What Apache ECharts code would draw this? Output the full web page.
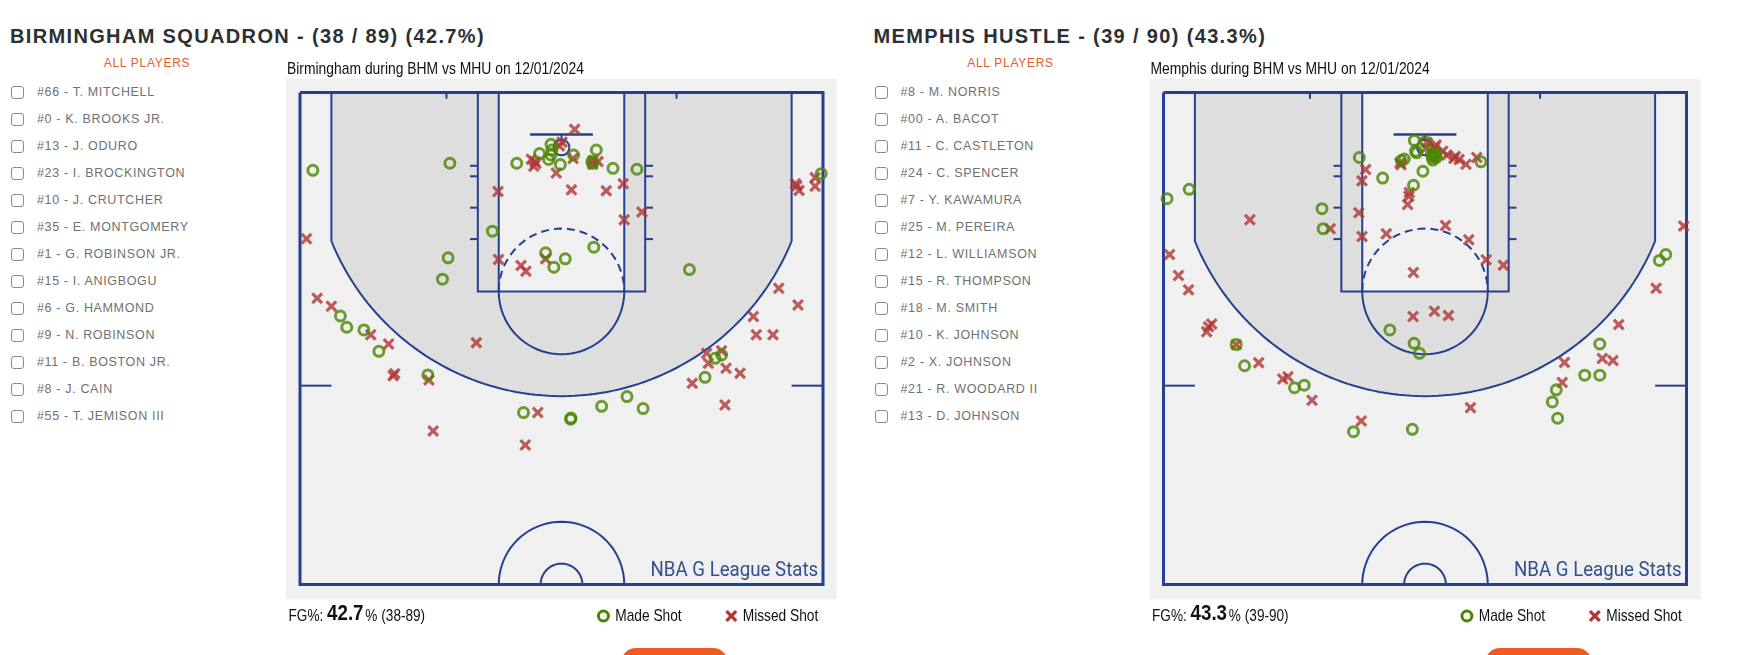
<!DOCTYPE html>
<html><head><meta charset="utf-8">
<script src="https://cdn.jsdelivr.net/npm/echarts@6/dist/echarts.min.js"></script>
<style>
html,body{margin:0;padding:0;background:#fff;width:1761px;height:655px;overflow:hidden;font-family:"Liberation Sans",Arial,sans-serif;}
.hdr{position:absolute;top:25.8px;font-weight:bold;font-size:20px;line-height:20px;letter-spacing:1.35px;color:#2b3035;white-space:nowrap;}
.all{position:absolute;top:56.5px;font-size:12px;line-height:12px;letter-spacing:0.7px;color:#e0612b;white-space:nowrap;transform:translateX(-50%);}
.row{position:absolute;height:14px;white-space:nowrap;}
.cb{position:absolute;left:0;top:1px;width:11px;height:11px;border:1.5px solid #8a8a8a;border-radius:3px;}
.nm{position:absolute;left:26px;top:0;font-size:12.5px;line-height:14px;letter-spacing:0.65px;color:#707070;}
.btn{position:absolute;top:648px;width:107px;height:30px;border-radius:15px;background:#f05a1e;}
#chart{position:absolute;left:0;top:0;width:1761px;height:655px;}
</style></head>
<body>
<div id="page"></div>
<div id="chart"></div>
<script>
// ---------------- DATA ----------------
const bhmTitle = "BIRMINGHAM SQUADRON - (38 / 89) (42.7%)";
const mhuTitle = "MEMPHIS HUSTLE - (39 / 90) (43.3%)";
const bhmSubtitle = "Birmingham during BHM vs MHU on 12/01/2024";
const mhuSubtitle = "Memphis during BHM vs MHU on 12/01/2024";
const bhmFG = ["42.7", "(38-89)"];
const mhuFG = ["43.3", "(39-90)"];
const bhmPlayers = ["#66 - T. MITCHELL","#0 - K. BROOKS JR.","#13 - J. ODURO","#23 - I. BROCKINGTON","#10 - J. CRUTCHER","#35 - E. MONTGOMERY","#1 - G. ROBINSON JR.","#15 - I. ANIGBOGU","#6 - G. HAMMOND","#9 - N. ROBINSON","#11 - B. BOSTON JR.","#8 - J. CAIN","#55 - T. JEMISON III"];
const mhuPlayers = ["#8 - M. NORRIS","#00 - A. BACOT","#11 - C. CASTLETON","#24 - C. SPENCER","#7 - Y. KAWAMURA","#25 - M. PEREIRA","#12 - L. WILLIAMSON","#15 - R. THOMPSON","#18 - M. SMITH","#10 - K. JOHNSON","#2 - X. JOHNSON","#21 - R. WOODARD II","#13 - D. JOHNSON"];
const legendNames = ["Made Shot", "Missed Shot"];

// shot locations in feet: [x from basket centre, distance from baseline]
const bhmMade = [[-23.77,7.43],[-10.67,6.76],[-4.28,6.76],[-2.1,5.83],[-1.0,4.95],[-0.91,5.49],[-1.0,5.97],[-1.23,6.4],[-0.11,6.88],[1.16,5.97],
[3.33,5.49],[2.9,6.6],[2.98,6.78],[4.92,7.24],[7.21,7.33],[-6.6,13.24],[-10.84,15.79],[-11.38,17.83],[-1.52,15.31],[-0.73,16.68],
[0.36,15.89],[3.09,14.77],[12.23,16.91],[-21.14,21.34],[-20.53,22.42],[-18.89,22.68],[-17.46,24.72],[-12.78,26.97],[13.72,27.2],[14.68,25.39],
[15.31,25.07],[24.83,7.75],[-3.63,30.57],[0.87,31.21],[0.9,31.1],[3.84,29.97],[6.26,29.04],[7.8,30.19]];
const bhmMissed = [[1.26,3.52],[0.05,4.76],[-2.88,6.38],[-2.44,6.79],[-2.65,7.05],[-0.5,7.68],[1.11,6.3],[3.02,6.5],[3.5,6.6],[-6.07,9.45],
[0.95,9.3],[4.28,9.38],[5.9,8.72],[5.99,12.15],[7.69,11.42],[-24.38,13.97],[-6.02,15.95],[-3.87,16.52],[-3.4,17.07],[-1.52,15.89],
[-23.36,19.65],[-22.0,20.41],[-18.24,23.13],[-16.53,24.02],[-15.95,26.85],[-16.1,27.05],[-12.68,27.45],[-8.14,23.89],[22.37,8.71],[22.71,9.35],
[24.25,8.13],[24.25,8.96],[20.77,18.69],[22.61,20.29],[18.34,21.4],[18.62,23.13],[20.22,23.13],[13.88,24.9],[14.04,25.87],[15.3,24.66],
[15.73,26.34],[17.07,26.82],[12.5,27.78],[15.63,29.85],[-12.27,32.33],[-3.46,33.67],[-2.27,30.57],[2.99,6.86],[-2.55,6.6],[-0.2,5.1],
[22.5,8.9]];
const mhuMade = [[-1.02,4.58],[0.02,4.7],[-0.8,5.76],[0.8,5.98],[0.95,6.1],[0.6,5.85],[1.0,5.8],[-1.98,6.35],[-2.26,6.5],[5.35,6.62],
[-6.28,6.21],[-4.05,8.17],[-0.2,7.52],[-1.1,8.86],[-9.85,11.1],[-9.74,13.01],[-24.66,10.14],[-22.54,9.25],[-18.05,24.08],[-17.25,26.1],
[-12.48,28.2],[-11.55,27.95],[-6.84,32.39],[-1.21,32.17],[-3.36,22.68],[-1.04,23.96],[-0.53,24.91],[23.02,15.47],[22.41,16.04],[16.71,24.02],
[15.27,27.0],[16.71,27.0],[12.55,28.4],[12.17,29.55],[12.68,31.11],[0.75,6.45],[0.7,6.2],[1.1,6.2],[-0.9,5.6]];
const mhuMissed = [[0.18,4.77],[1.07,5.02],[-2.39,6.72],[2.1,5.98],[2.76,6.3],[3.26,6.4],[3.92,6.85],[4.95,6.2],[-5.67,7.35],[-6.03,8.44],
[-1.5,9.55],[-1.66,10.69],[-6.33,11.48],[-6.02,13.75],[-3.7,13.49],[1.96,12.7],[4.18,14.07],[5.85,15.98],[7.49,16.49],[-1.11,17.19],
[-9.06,13.01],[-16.74,12.15],[-24.42,15.47],[-23.57,17.48],[-22.61,18.85],[-20.7,22.37],[-20.39,22.11],[-20.87,22.85],[-18.05,24.08],[-15.9,25.8],
[-13.6,27.36],[-13.1,27.14],[-10.8,29.4],[-1.14,21.4],[0.9,20.89],[2.24,21.31],[-6.09,31.37],[4.35,30.1],[24.73,12.76],[22.1,18.69],
[18.52,22.17],[16.95,25.4],[17.97,25.6],[13.33,25.78],[13.12,27.7],[0.94,5.26],[2.9,6.1],[1.7,5.6],[-1.55,9.9],[-2.3,6.9],
[0.1,5.3]];

// ---------------- STYLE ----------------
const GREEN = '#4a8600', RED = '#b03434', LINE = '#24418f', BG = '#f0f0f0', PAINT = '#dedede', WM = '#34508c';
const DX = 863.5;
const XPATH = 'path://M19,0L50,31L81,0L100,19L69,50L100,81L81,100L50,69L19,100L0,81L31,50L0,19Z';
const XPOLY = [[19,0],[50,31],[81,0],[100,19],[69,50],[100,81],[81,100],[50,69],[19,100],[0,81],[31,50],[0,19]];
const MADE_SIZE = 10, MADE_W = 3, MISS_SIZE = 12;

// ---------------- HTML side ----------------
const page = document.getElementById('page');
function add(html){ page.insertAdjacentHTML('beforeend', html); }
function side(dx, title, players){
  add(`<div class="hdr" style="left:${10+dx}px">${title}</div>`);
  add(`<div class="all" style="left:${147+dx}px">ALL PLAYERS</div>`);
  players.forEach((p,i)=>{
    const y = 92.1 + 26.95*i;
    add(`<div class="row" style="left:${11+dx}px;top:${(y-7).toFixed(1)}px"><div class="cb"></div><div class="nm">${p}</div></div>`);
  });
  add(`<div class="btn" style="left:${621+dx}px"></div>`);
}
side(0, bhmTitle, bhmPlayers);
side(DX, mhuTitle, mhuPlayers);

// ---------------- ECharts ----------------
const mctx = document.createElement('canvas').getContext('2d');
function measure(text, font){ mctx.font = font; return mctx.measureText(text).width; }
const NARROW = '"Liberation Sans Narrow","Liberation Sans",Arial,sans-serif';
const fSub = '17px ' + NARROW, fReg = '16px ' + NARROW, fBold = 'bold 22px ' + NARROW, fLeg = '17px ' + NARROW;
const fWM = '21px Roboto, "Noto Sans", sans-serif';
const sSub = 297 / measure(bhmSubtitle, fSub);
const sReg = (34.7 + 11.4 + 44.6) / (measure('FG%:', fReg) + measure('%', fReg) + measure(bhmFG[1], fReg));
const sBold = 36.4 / measure(bhmFG[0], fBold);
const sLeg = (66.8 + 75.3) / (measure(legendNames[0], fLeg) + measure(legendNames[1], fLeg));
const sWM = 167.7 / measure('NBA G League Stats', fWM);

function txt(text, font, size, x, baseline, scale, color, mid){
  return {type:'text', x:x, y: baseline - (mid||0.3465)*size, scaleX: scale, silent:true, z:10,
    style:{text:text, font:font, fill:color, align:'left', verticalAlign:'middle'}};
}
function panelGraphics(dx, sub, fg){
  const g = [];
  g.push(txt(sub, fSub, 17, 287 + dx, 75, sSub, '#111'));
  g.push(txt('FG%:', fReg, 16, 288.5 + dx, 622, sReg, '#111'));
  g.push(txt(fg[0], fBold, 22, 327.1 + dx, 622, sBold, '#111'));
  g.push(txt('%', fReg, 16, 365.3 + dx, 622, sReg, '#111'));
  g.push(txt(fg[1], fReg, 16, 381.3 + dx, 622, sReg, '#111'));
  g.push({type:'circle', silent:true, z:10, shape:{cx:603.4+dx, cy:616, r:MADE_SIZE/2}, style:{fill:'none', stroke:GREEN, lineWidth:MADE_W}});
  g.push(txt(legendNames[0], fLeg, 17, 615.2 + dx, 622, sLeg, '#111'));
  const xs = MISS_SIZE, x0 = 731.3 + dx - xs/2, y0 = 616 - xs/2;
  g.push({type:'polygon', silent:true, z:10, shape:{points: XPOLY.map(p => [x0 + p[0]*xs/100, y0 + p[1]*xs/100])}, style:{fill:RED}});
  g.push(txt(legendNames[1], fLeg, 17, 742.7 + dx, 622, sLeg, '#111'));
  g.push(txt('NBA G League Stats', fWM, 21, 650.5 + dx, 578.3, sWM, WM, 0.342));
  return g;
}

function courtItem(params, api){
  const c = (x,y) => api.coord([x,y]);
  const arc = (cx,cy,r,a0,a1,n) => { const o=[]; for(let i=0;i<=n;i++){ const a=a0+(a1-a0)*i/n; o.push(c(cx+r*Math.cos(a), cy+r*Math.sin(a))); } return o; };
  const ln = (pts,w,dash) => { const st={stroke:LINE, lineWidth:w||2, fill:null}; if(dash) st.lineDash=dash; return {type:'polyline', shape:{points:pts}, style:st}; };
  const p0 = c(-26.34,-1.29), p1 = c(26.34,48.4);
  const cy3 = 5.25 + Math.sqrt(23.75*23.75 - 22*22);
  const a0 = Math.atan2(cy3-5.25, -22), a1 = Math.atan2(cy3-5.25, 22);
  const three = [c(-22,0), c(-22,cy3)].concat(arc(0,5.25,23.75,a0,a1,90)).concat([c(22,cy3), c(22,0)]);
  const l0 = c(-6,0), l1 = c(6,19);
  const ch = [
    {type:'rect', shape:{x:p0[0], y:p0[1], width:p1[0]-p0[0], height:p1[1]-p0[1]}, style:{fill:BG}},
    {type:'polygon', shape:{points:three}, style:{fill:PAINT}},
    {type:'rect', shape:{x:l0[0], y:l0[1], width:l1[0]-l0[0], height:l1[1]-l0[1]}, style:{fill:BG}},
    ln(three),
    ln([c(-8,0), c(-8,19), c(8,19), c(8,0)]),
    ln([c(-6,0), c(-6,19)]),
    ln([c(6,0), c(6,19)]),
    ln(arc(0,19,6,0,Math.PI,40)),
    ln(arc(0,19,6,Math.PI,2*Math.PI,40), 2, [8,5]),
    ln([c(-11,0), c(-11,0.6)]),
    ln([c(11,0), c(11,0.6)]),
    ln([c(-3,4), c(3,4)], 2.5),
    ln([c(0,4), c(0,4.5)]),
    ln(arc(0,5.25,0.75,0,2*Math.PI,24)),
    ln([c(-25,28), c(-22,28)]),
    ln([c(22,28), c(25,28)]),
    ln(arc(0,47,6,Math.PI,2*Math.PI,40)),
    ln(arc(0,47,2,Math.PI,2*Math.PI,24)),
    ln([c(-25,0), c(25,0), c(25,47), c(-25,47), c(-25,0)], 3)
  ];
  [7,8,11,14].forEach(y => { ch.push(ln([c(-8.75,y), c(-8,y)])); ch.push(ln([c(8,y), c(8.75,y)])); });
  return {type:'group', children:ch};
}

const chart = echarts.init(document.getElementById('chart'), null, {renderer:'canvas'});
const grids = [0,1];
const series = [];
grids.forEach(i => {
  series.push({type:'custom', name:'court'+i, xAxisIndex:i, yAxisIndex:i, data:[[0,0]], renderItem:courtItem, silent:true, z:1});
});
[[bhmMissed, bhmMade], [mhuMissed, mhuMade]].forEach((d,i) => {
  series.push({type:'scatter', name:legendNames[1], xAxisIndex:i, yAxisIndex:i, data:d[0], symbol:XPATH, symbolSize:MISS_SIZE,
    itemStyle:{color:RED}, silent:true, z:3});
  series.push({type:'scatter', name:legendNames[0], xAxisIndex:i, yAxisIndex:i, data:d[1], symbol:'circle', symbolSize:MADE_SIZE,
    itemStyle:{color:'rgba(0,0,0,0)', borderColor:GREEN, borderWidth:MADE_W}, silent:true, z:4});
});
chart.setOption({
  animation:false,
  backgroundColor:'transparent',
  grid: grids.map(i => ({left:300 + i*DX, top:92.5, width:523, height:492.1})),
  xAxis: grids.map(i => ({type:'value', gridIndex:i, min:-25, max:25, show:false})),
  yAxis: grids.map(i => ({type:'value', gridIndex:i, min:0, max:47, inverse:true, show:false})),
  series: series,
  graphic: panelGraphics(0, bhmSubtitle, bhmFG).concat(panelGraphics(DX, mhuSubtitle, mhuFG))
});
</script>
</body></html>
